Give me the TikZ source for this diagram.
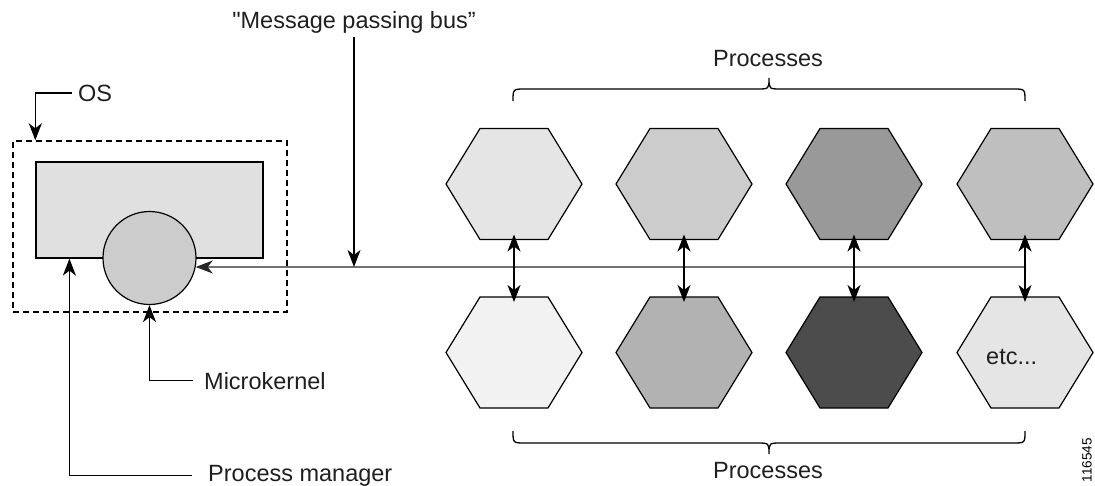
\documentclass[tikz,border=0pt]{standalone}
\usepackage{fontspec}
% plain family: no TeX quote mapping, so " stays a straight quote
\newfontfamily\labelfont{Liberation Sans}
\setmainfont{Liberation Sans}
\usetikzlibrary{arrows.meta}

% flat-topped process hexagon: an invisible box node plus its outline
\newcommand\hexproc[4]{%
  \node[hexcell] (#1) at (#2,#3) {};
  \draw[hexline, fill=#4] (#1.west) -- ([xshift=34pt]#1.north west)
    -- ([xshift=-34pt]#1.north east) -- (#1.east)
    -- ([xshift=-34pt]#1.south east) -- ([xshift=34pt]#1.south west) -- cycle;
}

\begin{document}
\begin{tikzpicture}[x=1pt,y=-1pt,
  lbl/.style={inner sep=0pt, font=\labelfont\fontsize{23.5}{28}\selectfont, text=black!88},
  headone/.style={-{Stealth[length=17pt,width=13pt,inset=5pt]}},
  headtwo/.style={{Stealth[length=17pt,width=13pt,inset=5pt]}-{Stealth[length=17pt,width=13pt,inset=5pt]}},
  wire/.style={line width=1.3pt, black},
  hexcell/.style={minimum width=136pt, minimum height=111pt, inner sep=0pt, outer sep=0pt},
  hexline/.style={line width=1.2pt, black, line join=miter},
  brace/.style={line width=1.3pt, black},
]
\useasboundingbox (0,0) rectangle (1095,485);

% operating system block
\node[draw, dashed, dash pattern=on 6pt off 4pt, line width=1.4pt,
      minimum width=274pt, minimum height=171pt, inner sep=0pt] (osbox) at (150,226.5) {};
\node[draw, line width=1.2pt, fill=black!12, minimum width=227pt, minimum height=96pt,
      inner sep=0pt] (mgr) at (149.5,210) {};
\node[draw, circle, line width=1.2pt, fill=black!20, minimum size=93pt, inner sep=0pt] (mk) at (149.5,258) {};

% processes
\hexproc{t1}{514}{184}{black!10}
\hexproc{t2}{684}{184}{black!20}
\hexproc{t3}{854}{184}{black!40}
\hexproc{t4}{1025}{184}{black!25}
\hexproc{b1}{514}{352.5}{black!5}
\hexproc{b2}{684}{352.5}{black!30}
\hexproc{b3}{854}{352.5}{black!70}
\hexproc{b4}{1025}{352.5}{black!10}
\node[lbl, anchor=base west] (etc) at (986,364) {etc...};

% message passing bus
\coordinate (busend) at (1026,267);
\draw[wire, black!85, headone] (busend) -- (mk.-11);
\foreach \i in {1,...,4}
  \draw[wire, headtwo, shorten <=-5pt, shorten >=-5pt] (t\i.south) -- (b\i.north);

% labels and pointers
\node[lbl, anchor=base] (msg) at (354,28) {"Message passing bus”};
\draw[wire, headone] ([yshift=-9pt]msg.base) -- (msg.base |- busend);

\node[lbl, anchor=base west] (oslab) at (78,101) {OS};
\draw[wire, headone] ([xshift=-6pt]oslab.west) -| ([xshift=23pt]osbox.north west);

\node[lbl, anchor=base west] (mklab) at (204,389) {Microkernel};
\draw[wire, headone] ([xshift=-11pt]mklab.west) -| (mk.south);

\node[lbl, anchor=base west] (pmlab) at (208,481) {Process manager};
\draw[wire, headone] ([xshift=-16pt]pmlab.west) -| ([xshift=34pt]mgr.south west);

% braces over and under the process rows
\node[lbl, anchor=base] (ptop) at (768,66) {Processes};
\draw[brace] (513,101) .. controls (513,89) .. (525,89) -- (757,89)
  .. controls (769,89) .. (769,78) .. controls (769,89) .. (781,89) -- (1013,89)
  .. controls (1025,89) .. (1025,101);
\node[lbl, anchor=base] (pbot) at (768,478) {Processes};
\draw[brace] (513,431) .. controls (513,443) .. (525,443) -- (757,443)
  .. controls (769,443) .. (769,454) .. controls (769,443) .. (781,443) -- (1013,443)
  .. controls (1025,443) .. (1025,431);

\node[inner sep=0pt, font=\labelfont\fontsize{13.5}{16}\selectfont, rotate=90] (fig) at (1087,460) {116545};
\end{tikzpicture}
\end{document}
